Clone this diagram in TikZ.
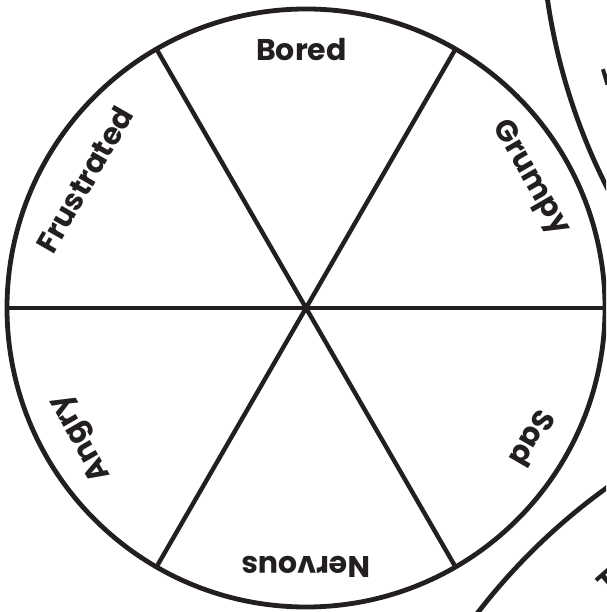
\documentclass[tikz,border=0pt]{standalone}
\usepackage{fontspec}
\setmainfont{Poppins}
\usetikzlibrary{positioning}
\definecolor{inkcolor}{RGB}{35, 31, 32}
\tikzstyle{rim} = [draw=inkcolor, circle, inner sep=0pt, outer sep=0pt, line width=4.8pt]
\tikzstyle{spoke} = [draw=inkcolor, line width=4.4pt]
\tikzstyle{feeling} = [text=inkcolor, inner sep=0pt, font=\fontsize{30}{36}\selectfont\bfseries]

\begin{document}
\begin{tikzpicture}[x=1pt, y=1pt]
\useasboundingbox (0,0) rectangle (606,612);
\clip (0,0) rectangle (606,612);

% Wheels
\node (wheel) [rim, minimum size=598pt] at (306,304) {};
\node (wheelne) [rim, minimum size=1230pt] at (1156,702) {};
\node (wheelse) [rim, minimum size=1240pt] at (969,-379) {};

% Spokes
\draw [spoke] (wheel.0) -- (wheel.180);
\draw [spoke] (wheel.60) -- (wheel.240);
\draw [spoke] (wheel.120) -- (wheel.300);

% Labels
\node (bored) [feeling, rotate=0] at ([shift={(91:259)}]wheel.center) {Bored};
\node (grumpy) [feeling, rotate=-60] at ([shift={(30:259)}]wheel.center) {Grumpy};
\node (sad) [feeling, rotate=-120] at ([shift={(-30:262)}]wheel.center) {Sad};
\node (nervous) [feeling, rotate=180] at ([shift={(-90:259)}]wheel.center) {Nervous};
\node (angry) [feeling, rotate=120] at ([shift={(-150:259)}]wheel.center) {Angry};
\node (frustrated) [feeling, rotate=60] at ([shift={(150:256)}]wheel.center) {Frustrated};

% Bits of the next wheels
\node (nebit) [feeling, rotate=106.6] at (614,537) {T};
\node (sebit) [feeling, rotate=41.5] at (608,30) {T};

\end{tikzpicture}
\end{document}
